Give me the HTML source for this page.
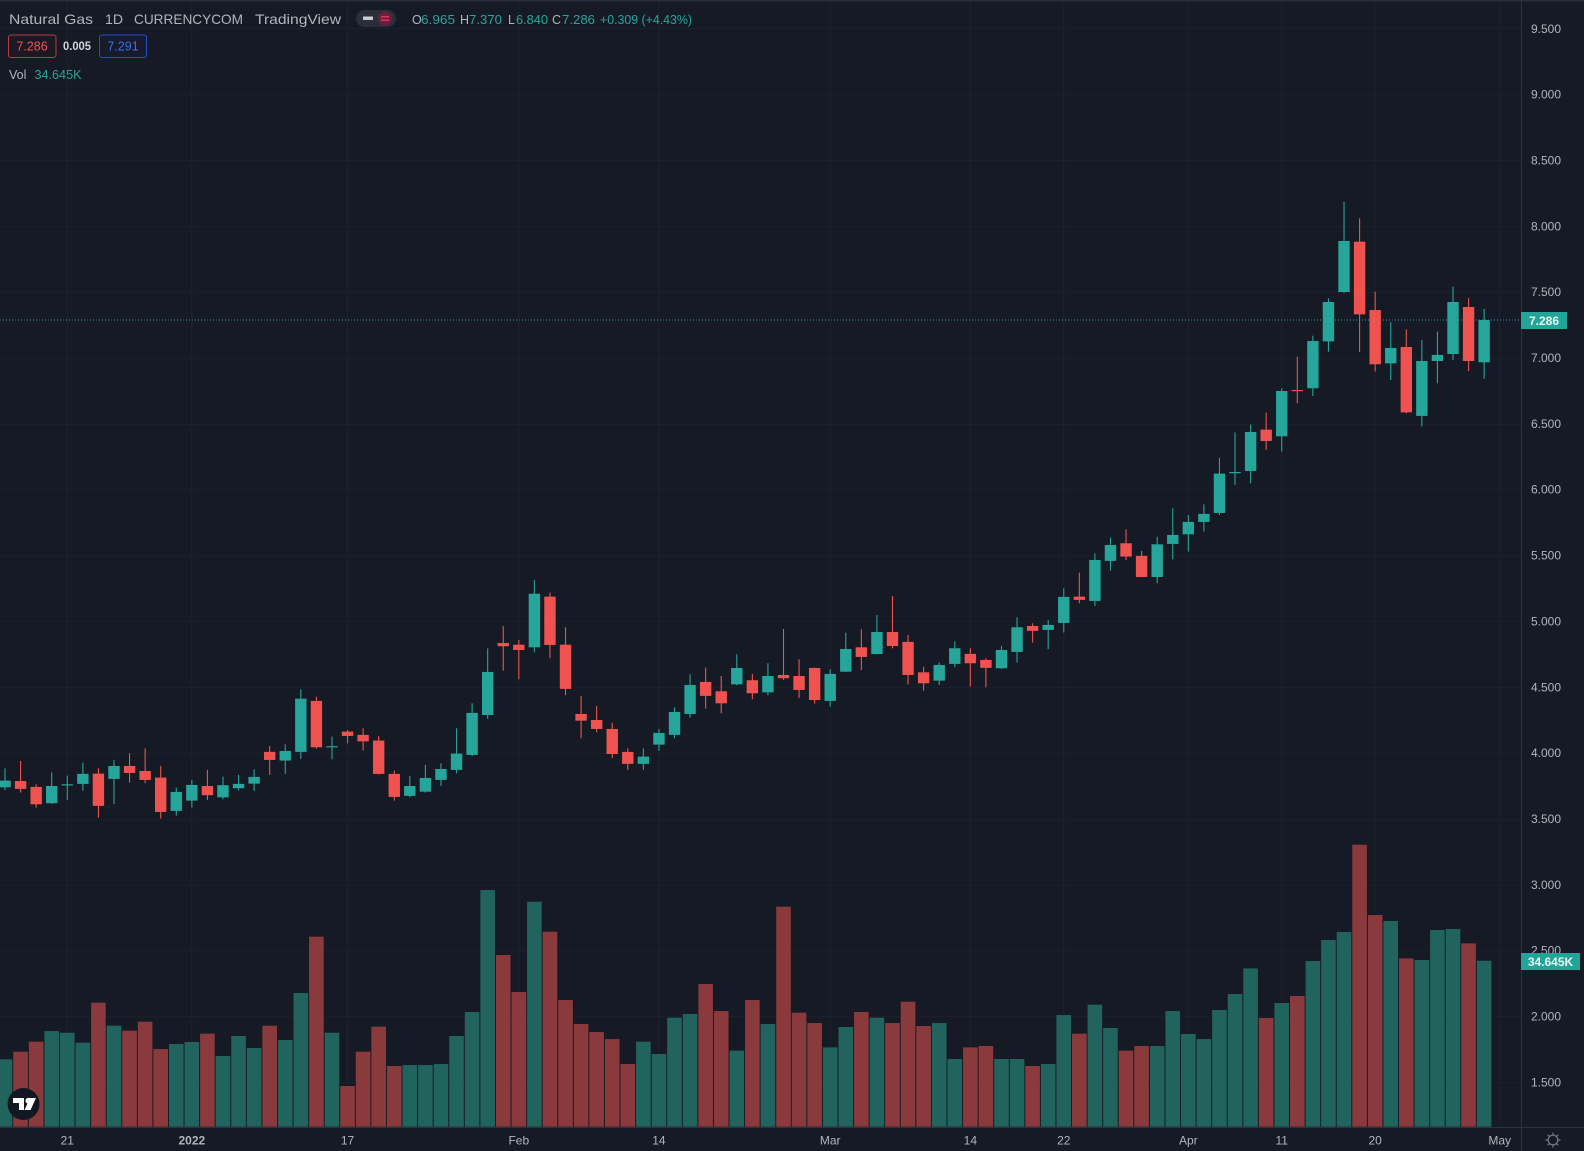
<!DOCTYPE html>
<html lang="en">
<head>
<meta charset="utf-8">
<title>Natural Gas 1D chart</title>
<style>
html,body{margin:0;padding:0;background:#161a24;width:1584px;height:1151px;overflow:hidden}
svg{display:block;font-family:"Liberation Sans",sans-serif}
</style>
</head>
<body>
<svg id="chart" xmlns="http://www.w3.org/2000/svg" width="1584" height="1151" viewBox="0 0 1584 1151">
  <rect x="0" y="0" width="1584" height="1151" fill="#161a24"/>
  <g id="grid"></g>
  <g id="lastline"></g>
  <g id="volumes"></g>
  <g id="candles"></g>
  <rect x="0" y="0" width="1584" height="1.5" fill="#2a2e39"/>
  <line x1="1521.5" y1="0" x2="1521.5" y2="1151" stroke="#2e323d" stroke-width="1"/>
  <line x1="0" y1="1127.5" x2="1584" y2="1127.5" stroke="#2e323d" stroke-width="1"/>
  <g id="priceaxis"></g>
  <g id="timeaxis"></g>

  <g font-size="14" fill="#b2b5be">
    <text x="9" y="24" textLength="84" lengthAdjust="spacingAndGlyphs">Natural Gas</text>
    <text x="105" y="24" textLength="18" lengthAdjust="spacingAndGlyphs">1D</text>
    <text x="134" y="24" textLength="109" lengthAdjust="spacingAndGlyphs">CURRENCYCOM</text>
    <text x="255" y="24" textLength="86" lengthAdjust="spacingAndGlyphs">TradingView</text>
  </g>
  <g>
    <rect x="356" y="10" width="40" height="17" rx="8.5" fill="#2a2e39"/>
    <rect x="363" y="16.5" width="10" height="3.5" fill="#c8cad0"/>
    <circle cx="385" cy="18.5" r="7" fill="#6b1f3a"/>
    <rect x="381" y="16" width="8" height="1.5" fill="#d8355f"/>
    <rect x="381" y="19.5" width="8" height="1.5" fill="#d8355f"/>
  </g>
  <g font-size="12.5" fill="#26a69a">
    <text x="412" y="24" fill="#b2b5be">O</text>
    <text x="421" y="24" textLength="34" lengthAdjust="spacingAndGlyphs">6.965</text>
    <text x="460" y="24" fill="#b2b5be">H</text>
    <text x="469" y="24" textLength="33" lengthAdjust="spacingAndGlyphs">7.370</text>
    <text x="508" y="24" fill="#b2b5be">L</text>
    <text x="516" y="24" textLength="32" lengthAdjust="spacingAndGlyphs">6.840</text>
    <text x="552" y="24" fill="#b2b5be">C</text>
    <text x="562" y="24" textLength="33" lengthAdjust="spacingAndGlyphs">7.286</text>
    <text x="600" y="24" textLength="92" lengthAdjust="spacingAndGlyphs">+0.309 (+4.43%)</text>
  </g>
  <g>
    <rect x="8.5" y="35" width="47.5" height="22.5" rx="2.5" fill="#1b1a24" stroke="#b83a42" stroke-width="1"/>
    <text x="32" y="50.5" font-size="12.5" fill="#ef5350" text-anchor="middle">7.286</text>
  </g>
  <text x="63" y="50" font-size="11.5" font-weight="bold" fill="#d1d4dc" textLength="28" lengthAdjust="spacingAndGlyphs">0.005</text>
  <g>
    <rect x="99.5" y="35" width="47" height="22.5" rx="2.5" fill="#171b2c" stroke="#2962ff" stroke-opacity="0.75" stroke-width="1"/>
    <text x="123" y="50.5" font-size="12.5" fill="#3f6fe8" text-anchor="middle">7.291</text>
  </g>
  <text x="9" y="79" font-size="12.5" fill="#b2b5be">Vol</text>
  <text x="34.5" y="79" font-size="12.5" fill="#26a69a" textLength="47" lengthAdjust="spacingAndGlyphs">34.645K</text>

  <g>
    <rect x="1521" y="312" width="46" height="17" fill="#22a598"/>
    <text x="1544" y="325" font-size="12" font-weight="bold" fill="#e8f5f3" text-anchor="middle">7.286</text>
  </g>
  <g>
    <rect x="1521" y="953" width="59" height="17" fill="#22a598"/>
    <text x="1550.5" y="966" font-size="12" font-weight="bold" fill="#e8f5f3" text-anchor="middle">34.645K</text>
  </g>

  <g>
    <circle cx="23.5" cy="1104" r="16" fill="#131722"/>
    <path d="M13 1098h11v12h-5v-7h-6zM29 1098h7l-5.500 12h-6l3-6.500a2.800 2.800 0 0 1 1.500-5.500z" fill="#ffffff"/>
  </g>
  <g fill="none" stroke="#787b86" stroke-width="1.2">
    <circle cx="1553" cy="1140" r="4.8"/>
    <path d="M1553 1132.500v2.500M1553 1145v2.500M1545.500 1140h2.500M1558 1140h2.500M1547.700 1134.700l1.800 1.800M1556.500 1143.500l1.800 1.800M1547.700 1145.300l1.800-1.800M1556.500 1136.500l1.800-1.800"/>
  </g>
</svg>
<script>
// Daily OHLC values
const opens = [3.738,3.786,3.741,3.617,3.756,3.764,3.842,3.802,3.900,3.862,3.812,3.559,3.637,3.748,3.662,3.731,3.766,4.007,3.941,4.007,4.394,4.044,4.161,4.136,4.093,3.840,3.673,3.705,3.794,3.870,3.984,4.287,4.834,4.821,4.801,5.186,4.821,4.295,4.249,4.181,4.007,3.916,4.062,4.136,4.295,4.538,4.467,4.520,4.551,4.459,4.591,4.583,4.644,4.394,4.616,4.801,4.750,4.917,4.842,4.611,4.548,4.675,4.751,4.705,4.642,4.766,4.963,4.933,4.986,5.186,5.153,5.457,5.591,5.495,5.335,5.586,5.659,5.753,5.821,6.127,6.140,6.454,6.403,6.755,6.768,7.124,7.499,7.881,7.362,6.957,7.081,6.558,6.975,7.028,7.385,6.965];
const highs = [3.882,3.938,3.761,3.852,3.827,3.926,3.882,3.946,3.996,4.034,3.900,3.736,3.794,3.870,3.819,3.832,3.875,4.052,4.065,4.482,4.426,4.123,4.173,4.186,4.128,3.865,3.824,3.908,3.920,4.186,4.376,4.793,4.963,4.857,5.312,5.216,4.953,4.432,4.356,4.229,4.034,4.034,4.181,4.346,4.596,4.647,4.583,4.748,4.599,4.680,4.940,4.710,4.647,4.634,4.912,4.938,5.046,5.191,4.895,4.654,4.685,4.845,4.794,4.718,4.812,5.029,4.984,5.009,5.249,5.368,5.515,5.634,5.697,5.533,5.641,5.857,5.806,5.887,6.241,6.433,6.492,6.583,6.768,7.008,7.167,7.451,8.184,8.058,7.501,7.269,7.215,7.134,7.198,7.539,7.451,7.370];
const lows = [3.718,3.698,3.584,3.612,3.642,3.713,3.508,3.612,3.774,3.769,3.501,3.523,3.584,3.642,3.647,3.713,3.711,3.832,3.840,3.953,4.032,3.951,4.072,4.017,3.834,3.637,3.662,3.698,3.748,3.845,3.976,4.257,4.624,4.558,4.763,4.718,4.437,4.110,4.156,3.959,3.870,3.870,4.014,4.110,4.267,4.336,4.300,4.513,4.406,4.437,4.553,4.416,4.373,4.351,4.614,4.629,4.748,4.793,4.520,4.472,4.515,4.650,4.503,4.498,4.637,4.685,4.837,4.786,4.913,5.135,5.115,5.383,5.464,5.333,5.287,5.469,5.528,5.679,5.806,6.034,6.046,6.300,6.287,6.654,6.709,7.046,7.490,7.043,6.894,6.831,6.578,6.477,6.806,6.983,6.899,6.840];
const closes = [3.789,3.726,3.609,3.748,3.761,3.840,3.597,3.900,3.847,3.794,3.551,3.703,3.756,3.678,3.754,3.764,3.817,3.946,4.014,4.411,4.042,4.050,4.128,4.087,3.840,3.665,3.748,3.809,3.877,3.994,4.303,4.614,4.809,4.781,5.208,4.819,4.485,4.244,4.181,3.991,3.916,3.971,4.151,4.310,4.515,4.432,4.376,4.644,4.452,4.583,4.566,4.477,4.401,4.599,4.788,4.728,4.917,4.811,4.591,4.528,4.667,4.794,4.680,4.645,4.781,4.953,4.926,4.971,5.184,5.161,5.464,5.578,5.490,5.335,5.583,5.654,5.753,5.814,6.120,6.132,6.436,6.368,6.747,6.747,7.127,7.423,7.886,7.329,6.950,7.074,6.585,6.975,7.021,7.423,6.975,7.286];
// Daily volume in thousands
const volumes = [14.06,15.66,17.75,19.97,19.62,17.54,25.89,21.09,20.04,21.92,16.21,17.26,17.68,19.42,14.75,18.93,16.42,21.09,18.09,27.91,39.67,19.62,8.49,15.66,20.88,12.67,12.87,12.87,13.08,18.93,23.94,49.41,35.84,28.11,46.97,40.71,26.44,21.43,19.76,18.30,13.08,17.75,15.17,22.76,23.52,29.78,24.15,15.87,26.44,21.43,45.93,23.80,21.64,16.56,20.81,23.94,22.76,21.64,26.10,21.02,21.64,14.13,16.56,16.84,14.13,14.13,12.67,13.08,23.31,19.42,25.47,20.60,15.87,16.84,16.84,24.15,19.35,18.30,24.36,27.70,33.05,22.69,25.82,27.28,34.59,38.97,40.64,58.87,44.19,42.94,35.14,34.79,41.06,41.27,38.27,34.645];
// Axis tick labels and the bar index each time label sits on
const priceTickValues = [1.5,2,2.5,3,3.5,4,4.5,5,5.5,6,6.5,7,7.5,8,8.5,9,9.5];
const timeTickLabels = ["21","2022","17","Feb","14","Mar","14","22","Apr","11","20","May"];
const timeTickBars = [4,12,22,33,42,53,62,68,76,82,88,96];
const lastClose = closes[closes.length - 1];

const SVG_NS = "http://www.w3.org/2000/svg";
const upColor = "#26a69a", downColor = "#f0534f";
const upVol = "#21645e", downVol = "#8a3a3d";
function xAt(i){ return 5 + i * 15.57; }
function yPrice(v){ return 357.7 - (v - 7) * 131.7; }
function yVolume(v){ return 1126.7 - v * 4.79; }
function make(tag, parent, attrs){
  const el = document.createElementNS(SVG_NS, tag);
  for (const k in attrs) el.setAttribute(k, attrs[k]);
  parent.appendChild(el);
  return el;
}
const gridG = document.getElementById("grid");
const lastG = document.getElementById("lastline");
const volG = document.getElementById("volumes");
const candleG = document.getElementById("candles");
const priceG = document.getElementById("priceaxis");
const timeG = document.getElementById("timeaxis");

priceTickValues.forEach(function(v){
  const y = Math.round(yPrice(v)) + 0.5;
  const line = make("line", gridG, {x1:0, x2:1521, y1:y, y2:y, stroke:"#1b1f2a", "stroke-width":1});
  
  
  const label = make("text", priceG, {x:1531, y:yPrice(v) + 4.3, "font-size":12, fill:"#b2b5be"});
  label.textContent = v.toFixed(3);
  
  
});
timeTickLabels.forEach(function(t, k){
  const x = xAt(timeTickBars[k]);
  const line = make("line", gridG, {x1:x, x2:x, y1:0, y2:1127, stroke:"#1e222c", "stroke-width":1});
  
  
  const label = make("text", timeG, {x:x, y:1144.5, "font-size":12, fill:"#b2b5be", "text-anchor":"middle", "font-weight": t === "2022" ? "bold" : "normal"});
  label.textContent = t;
  
  
});

const lastLine = make("line", lastG, {x1:0, x2:1521, y1:yPrice(lastClose), y2:yPrice(lastClose), stroke:"#26a69a", "stroke-width":1, "stroke-dasharray":"1 2"});



volumes.forEach(function(v, i){
  const up = closes[i] >= opens[i];
  const top = yVolume(v);
  const bar = make("rect", volG, {x:xAt(i) - 7.3, y:top, width:14.6, height:1126.7 - top, fill: up ? upVol : downVol});
  
  
});
opens.forEach(function(o, i){
  const c = closes[i];
  const up = c >= o;
  const color = up ? upColor : downColor;
  const x = xAt(i);
  const wick = make("line", candleG, {x1:x, x2:x, y1:yPrice(highs[i]), y2:yPrice(lows[i]), stroke:color, "stroke-width":1.1});
  
  
  const top = yPrice(Math.max(o, c));
  const h = Math.max(1.2, Math.abs(yPrice(o) - yPrice(c)));
  const body = make("rect", candleG, {x:x - 5.7, y:top, width:11.4, height:h, fill:color});
  
  
});
</script>
</body>
</html>
